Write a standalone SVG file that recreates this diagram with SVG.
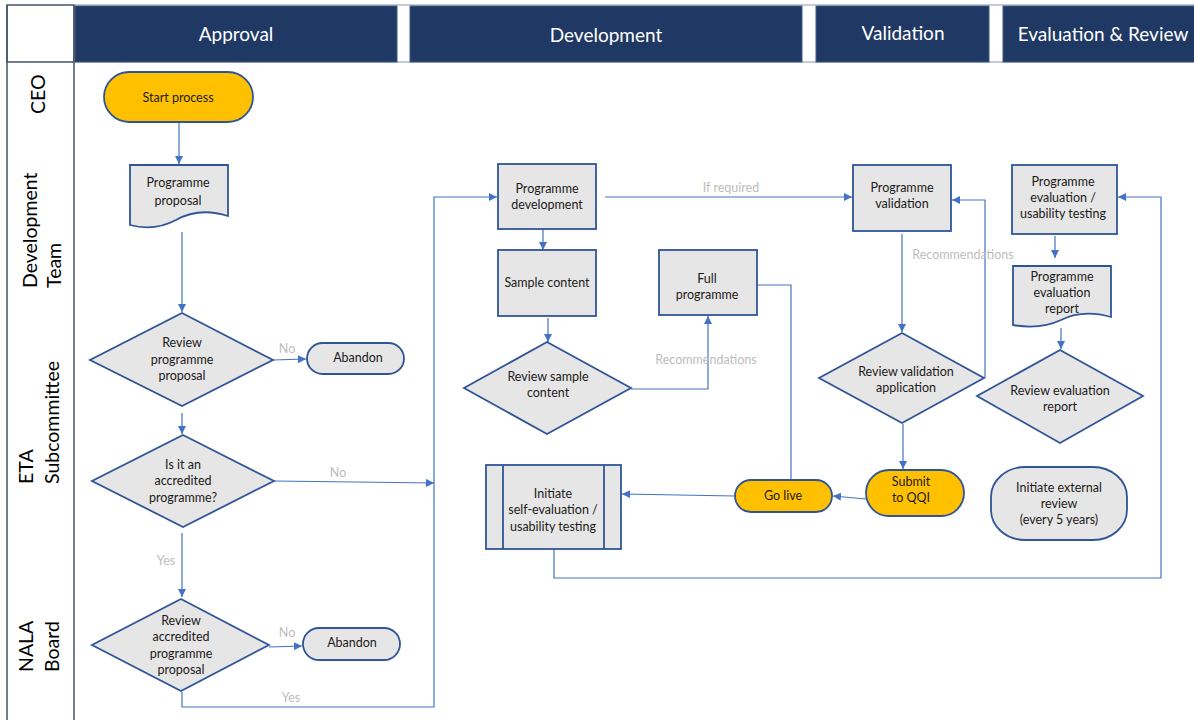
<svg xmlns="http://www.w3.org/2000/svg" width="1194" height="720" viewBox="0 0 1194 720">
  <style>
    .hdr { fill: #203864; stroke: #3E5C8A; stroke-width: 1; }
    .hdr-t { font-family: Lato, "Open Sans", sans-serif; font-size: 19px; fill: #FFFFFF; text-anchor: middle; }
    .lane-t { font-family: Lato, "Open Sans", sans-serif; font-size: 19.5px; fill: #000000; }
    .box { fill: #E7E6E6; stroke: #2F5597; stroke-width: 1.8; }
    .term { fill: #FFC000; stroke: #2F5597; stroke-width: 1.8; }
    .t { font-family: Lato, "Open Sans", sans-serif; font-size: 12.5px; fill: #1A1A1A; text-anchor: middle; }
    .lbl { font-family: Lato, "Open Sans", sans-serif; font-size: 12.5px; fill: #BDBDBD; text-anchor: middle; }
    .conn { fill: none; stroke: #4472C4; stroke-width: 1.2; }
    .frame { fill: none; stroke: #44546A; stroke-width: 1.5; }
  </style>
  <defs>
    <marker id="arrow" viewBox="0 0 10 10" refX="10" refY="5" markerWidth="8" markerHeight="8" markerUnits="userSpaceOnUse" orient="auto">
      <path d="M0,0 L10,5 L0,10 Z" fill="#4472C4"/>
    </marker>
  </defs>

  <rect x="0" y="0" width="1194" height="720" fill="#FFFFFF"/>

  <!-- phase header row -->
  <g id="header">
    <rect x="7" y="5" width="67" height="57" fill="#FFFFFF" stroke="#44546A" stroke-width="1.5"/>
    <line x1="74" y1="5" x2="1194" y2="5" stroke="#8C9AB0" stroke-width="1"/>
    <line x1="74" y1="62" x2="1194" y2="62" stroke="#8C9AB0" stroke-width="1"/>
    <rect class="hdr" x="75" y="6" width="322" height="56"/>
    <rect class="hdr" x="410" y="6" width="392" height="56"/>
    <rect class="hdr" x="816" y="6" width="173" height="56"/>
    <rect class="hdr" x="1003" y="6" width="195" height="56"/>
    <text class="hdr-t" x="236" y="41">Approval</text>
    <text class="hdr-t" x="606" y="42">Development</text>
    <text class="hdr-t" x="903" y="40">Validation</text>
    <text class="hdr-t" x="1103" y="41">Evaluation &amp; Review</text>
  </g>

  <!-- swimlane label column -->
  <g id="lanes">
    <line class="frame" x1="7" y1="5" x2="7" y2="720"/>
    <line class="frame" x1="74" y1="5" x2="74" y2="720"/>
    <text class="lane-t" transform="translate(45,114) rotate(-90)">CEO</text>
    <text class="lane-t" transform="translate(37,288) rotate(-90)">Development</text>
    <text class="lane-t" transform="translate(61,288) rotate(-90)">Team</text>
    <text class="lane-t" transform="translate(33,484) rotate(-90)">ETA</text>
    <text class="lane-t" transform="translate(59,484) rotate(-90)">Subcommittee</text>
    <text class="lane-t" transform="translate(33,672) rotate(-90)">NALA</text>
    <text class="lane-t" transform="translate(59,672) rotate(-90)">Board</text>
  </g>

  <!-- connectors -->
  <g id="connectors">
    <path class="conn" d="M179,122 V164" marker-end="url(#arrow)"/>
    <path class="conn" d="M182,232 V312" marker-end="url(#arrow)"/>
    <path class="conn" d="M273,360 L306,359" marker-end="url(#arrow)"/>
    <path class="conn" d="M182,413 V434" marker-end="url(#arrow)"/>
    <path class="conn" d="M274,481 L434,483" marker-end="url(#arrow)"/>
    <path class="conn" d="M182,533 V597" marker-end="url(#arrow)"/>
    <path class="conn" d="M269,647 L302,646" marker-end="url(#arrow)"/>
    <path class="conn" d="M182,692 V707 H434 V197 H497" marker-end="url(#arrow)"/>
    <path class="conn" d="M543,229 V250" marker-end="url(#arrow)"/>
    <path class="conn" d="M548,318 V342" marker-end="url(#arrow)"/>
    <path class="conn" d="M631,389 H708 V316" marker-end="url(#arrow)"/>
    <path class="conn" d="M605,197 H852" marker-end="url(#arrow)"/>
    <path class="conn" d="M757,285 H791 V481"/>
    <path class="conn" d="M866,499 L833,496" marker-end="url(#arrow)"/>
    <path class="conn" d="M735,496 L622,494" marker-end="url(#arrow)"/>
    <path class="conn" d="M902,234 V332" marker-end="url(#arrow)"/>
    <path class="conn" d="M985,378 V200 H952" marker-end="url(#arrow)"/>
    <path class="conn" d="M903,424 V469" marker-end="url(#arrow)"/>
    <path class="conn" d="M554,549 V578 H1161 V197 H1118" marker-end="url(#arrow)"/>
    <path class="conn" d="M1055,236 V258" marker-end="url(#arrow)"/>
    <path class="conn" d="M1061,328 V349" marker-end="url(#arrow)"/>

    <text class="lbl" x="287" y="353">No</text>
    <text class="lbl" x="338" y="477">No</text>
    <text class="lbl" x="166" y="565">Yes</text>
    <text class="lbl" x="287" y="637">No</text>
    <text class="lbl" x="291" y="702">Yes</text>
    <text class="lbl" x="731" y="192">If required</text>
    <text class="lbl" x="706" y="364">Recommendations</text>
    <text class="lbl" x="963" y="259">Recommendations</text>
  </g>

  <!-- nodes -->
  <g id="start">
    <rect class="term" x="104" y="72" width="149" height="50" rx="25"/>
    <text class="t" x="178" y="102">Start process</text>
  </g>

  <g id="programme-proposal">
    <path class="box" d="M130,165 H228 V216 C206,209 190,212 176,220 C161,228 145,229 130,225 Z"/>
    <text class="t" x="178" y="187">Programme</text>
    <text class="t" x="178" y="205">proposal</text>
  </g>

  <g id="review-proposal">
    <polygon class="box" points="182,313 273,360 182,406 90,360"/>
    <text class="t" x="182" y="347">Review</text>
    <text class="t" x="182" y="364">programme</text>
    <text class="t" x="182" y="380">proposal</text>
  </g>

  <g id="abandon-1">
    <rect class="box" x="307" y="343" width="97" height="31" rx="15.5"/>
    <text class="t" x="358" y="362">Abandon</text>
  </g>

  <g id="accredited-check">
    <polygon class="box" points="183,435 274,481 183,527 92,481"/>
    <text class="t" x="183" y="469">Is it an</text>
    <text class="t" x="183" y="485">accredited</text>
    <text class="t" x="183" y="502">programme?</text>
  </g>

  <g id="review-accredited">
    <polygon class="box" points="181,599 269,645 181,691 92,645"/>
    <text class="t" x="181" y="625">Review</text>
    <text class="t" x="181" y="641">accredited</text>
    <text class="t" x="181" y="658">programme</text>
    <text class="t" x="181" y="674">proposal</text>
  </g>

  <g id="abandon-2">
    <rect class="box" x="303" y="628" width="97" height="32" rx="16"/>
    <text class="t" x="352" y="647">Abandon</text>
  </g>

  <g id="programme-development">
    <rect class="box" x="498" y="164" width="98" height="65"/>
    <text class="t" x="547" y="193">Programme</text>
    <text class="t" x="547" y="209">development</text>
  </g>

  <g id="sample-content">
    <rect class="box" x="498" y="250" width="98" height="66"/>
    <text class="t" x="547" y="287">Sample content</text>
  </g>

  <g id="review-sample">
    <polygon class="box" points="547,342 631,388 547,434 464,388"/>
    <text class="t" x="548" y="381">Review sample</text>
    <text class="t" x="548" y="397">content</text>
  </g>

  <g id="full-programme">
    <rect class="box" x="659" y="250" width="98" height="65"/>
    <text class="t" x="707" y="283">Full</text>
    <text class="t" x="707" y="299">programme</text>
  </g>

  <g id="self-evaluation">
    <rect class="box" x="486" y="465" width="135" height="84"/>
    <line x1="503" y1="465" x2="503" y2="549" stroke="#2F5597" stroke-width="1.8"/>
    <line x1="604" y1="465" x2="604" y2="549" stroke="#2F5597" stroke-width="1.8"/>
    <text class="t" x="553" y="498">Initiate</text>
    <text class="t" x="553" y="514">self-evaluation /</text>
    <text class="t" x="553" y="531">usability testing</text>
  </g>

  <g id="go-live">
    <rect class="term" x="735" y="480" width="97" height="32" rx="16"/>
    <text class="t" x="783" y="500">Go live</text>
  </g>

  <g id="programme-validation">
    <rect class="box" x="853" y="165" width="98" height="66"/>
    <text class="t" x="902" y="192">Programme</text>
    <text class="t" x="902" y="208">validation</text>
  </g>

  <g id="review-validation">
    <polygon class="box" points="902,333 984,378 902,423 819,378"/>
    <text class="t" x="906" y="376">Review validation</text>
    <text class="t" x="906" y="392">application</text>
  </g>

  <g id="submit-qqi">
    <rect class="term" x="866" y="470" width="98" height="46" rx="23"/>
    <text class="t" x="911" y="486">Submit</text>
    <text class="t" x="911" y="502">to QQI</text>
  </g>

  <g id="programme-evaluation">
    <rect class="box" x="1012" y="165" width="105" height="69"/>
    <text class="t" x="1063" y="186">Programme</text>
    <text class="t" x="1063" y="202">evaluation /</text>
    <text class="t" x="1063" y="218">usability testing</text>
  </g>

  <g id="evaluation-report">
    <path class="box" d="M1013,266 H1111 V317 C1090,311 1075,313 1061,320 C1046,327 1030,328 1013,325 Z"/>
    <text class="t" x="1062" y="281">Programme</text>
    <text class="t" x="1062" y="297">evaluation</text>
    <text class="t" x="1062" y="313">report</text>
  </g>

  <g id="review-evaluation">
    <polygon class="box" points="1060,350 1143,396 1060,443 977,396"/>
    <text class="t" x="1060" y="395">Review evaluation</text>
    <text class="t" x="1060" y="411">report</text>
  </g>

  <g id="external-review">
    <rect class="box" x="991" y="467" width="136" height="73" rx="34" ry="30"/>
    <text class="t" x="1059" y="492">Initiate external</text>
    <text class="t" x="1059" y="508">review</text>
    <text class="t" x="1059" y="524">(every 5 years)</text>
  </g>
</svg>
